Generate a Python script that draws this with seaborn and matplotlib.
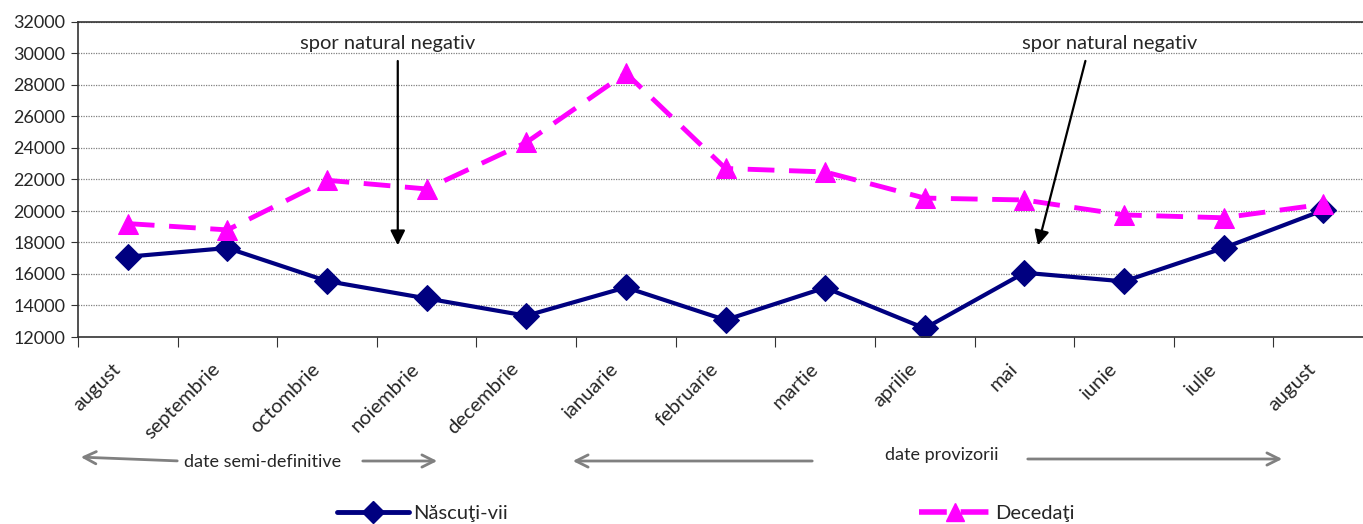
import numpy as np
import pandas as pd
import seaborn as sns
import matplotlib.pyplot as plt
from matplotlib.lines import Line2D
from matplotlib.transforms import ScaledTranslation

# date
luni = ["august", "septembrie", "octombrie", "noiembrie", "decembrie", "ianuarie",
        "februarie", "martie", "aprilie", "mai", "iunie", "iulie", "august"]
nascuti = [17100, 17650, 15550, 14450, 13350, 15150, 13080, 15130, 12550,
           16080, 15530, 17650, 20050]
decedati = [19200, 18800, 21950, 21400, 24350, 28750, 22700, 22480, 20820,
            20700, 19750, 19570, 20430]
y_ticks = list(range(12000, 32001, 2000))

df = pd.DataFrame({"poz": range(len(luni)), "luna": luni,
                   "Născuţi-vii": nascuti, "Decedaţi": decedati})

sns.set_style("ticks")
plt.rcParams["font.family"] = ["Lato", "DejaVu Sans"]

W, H = 1363, 524
fig = plt.figure(figsize=(W / 100, H / 100), dpi=100)
ax = fig.add_axes([78 / W, 187 / H, 1295 / W, 315 / H])

# linii
sns.lineplot(data=df, x="poz", y="Născuţi-vii", ax=ax, color="#000080", lw=3,
             marker="D", markersize=13, markeredgecolor="#000080", errorbar=None)
sns.lineplot(data=df, x="poz", y="Decedaţi", ax=ax, color="#FF00FF", lw=3.5,
             marker="^", markersize=14, markeredgecolor="#FF00FF", errorbar=None)
ax.lines[-1].set_dashes((5.5, 3))

# axe
ax.set_xlim(-0.5, len(luni) - 0.5)
ax.set_ylim(12000, 32000)
ax.set_yticks(y_ticks)
ax.set_yticklabels([str(v) for v in y_ticks], fontsize=13)
ax.set_xticks(np.arange(-0.5, len(luni), 1))
ax.set_xticklabels([])
ax.tick_params(axis="x", which="major", length=7, direction="out", color="#333333")
ax.tick_params(axis="y", length=5, direction="out", color="#333333", pad=4)
ax.set_xlabel("")
ax.set_ylabel("")

# etichete luni (rotite 45 grade, ca in Excel)
off = ScaledTranslation(-16 / 100, -23 / 100, fig.dpi_scale_trans)
for i, luna in enumerate(luni):
    ax.text(i, 0, luna, transform=ax.get_xaxis_transform() + off, rotation=45,
            ha="right", va="top", rotation_mode="anchor", fontsize=14.5)

ax.grid(axis="y", color="#808080", lw=0.9, linestyle=(0, (1, 1)))
ax.set_axisbelow(True)
ax.spines["right"].set_visible(False)
for s in ["left", "bottom", "top"]:
    ax.spines[s].set_color("#333333")
    ax.spines[s].set_linewidth(1.2)

# adnotari spor natural negativ
ax.annotate("", xy=(2.71, 17650), xytext=(2.71, 29700),
            arrowprops=dict(arrowstyle="-|>", color="black", lw=1.6, mutation_scale=22))
ax.text(2.61, 30650, "spor natural negativ", ha="center", va="center", fontsize=14.5)
ax.annotate("", xy=(9.13, 17650), xytext=(9.62, 29700),
            arrowprops=dict(arrowstyle="-|>", color="black", lw=1.6, mutation_scale=22))
ax.text(9.86, 30650, "spor natural negativ", ha="center", va="center", fontsize=14.5)

# sageti date semi-definitive / provizorii (pixeli din imagine)
gri = "#808080"
def sageata(x0, y0, x1, y1):
    ax.annotate("", xy=(x1 / W, 1 - y1 / H), xytext=(x0 / W, 1 - y0 / H),
                xycoords="figure fraction", textcoords="figure fraction",
                arrowprops=dict(arrowstyle="->", color=gri, lw=2, mutation_scale=22))

sageata(180, 461, 78, 457)
sageata(360, 461, 440, 461)
sageata(815, 461, 570, 461)
sageata(1025, 459, 1285, 459)
fig.text(263 / W, 1 - 462 / H, "date semi-definitive", ha="center", va="center", fontsize=13)
fig.text(942 / W, 1 - 455 / H, "date provizorii", ha="center", va="center", fontsize=13)

# legenda
h1 = Line2D([], [], color="#000080", lw=3.5, marker="D", markersize=11)
h2 = Line2D([], [], color="#FF00FF", lw=4, marker="^", markersize=13, dashes=(5, 2.5))
fig.legend([h1, h2], ["Născuţi-vii", "Decedaţi"], loc="center",
           bbox_to_anchor=(706 / W, 11 / H), ncol=2, frameon=False, fontsize=14.5,
           handlelength=3.6, handletextpad=0.2, columnspacing=20.4)

fig.savefig("out.png", dpi=100)
